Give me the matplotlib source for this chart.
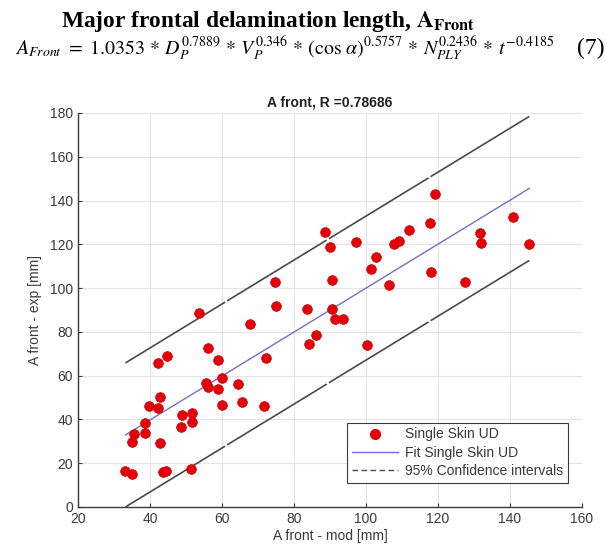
import matplotlib
matplotlib.use("Agg")
import matplotlib.pyplot as plt
from matplotlib.lines import Line2D
import numpy as np

plt.rcParams['mathtext.fontset'] = 'stix'

# ---- data ----
x_mod = [53.7, 75.0, 83.7, 90.6, 91.4, 93.6, 67.8, 86.1, 84.2, 56.0,
         44.7, 42.1, 59.0, 72.3, 60.1, 55.5, 56.2, 58.8, 64.6, 42.8,
         39.7, 42.2, 60.0, 65.7, 71.6, 48.9, 51.8, 51.8, 48.6, 38.7,
         38.7, 35.5, 34.9, 42.8, 33.2, 35.1, 43.5, 44.4, 51.5, 100.2,
         88.7, 90.1, 97.2, 90.5, 119.1, 112.1, 117.9, 107.9, 109.2, 102.9,
         101.5, 106.5, 118.2, 127.6, 131.6, 132.0, 141.0, 145.4, 74.7]
y_exp = [88.5, 91.8, 90.6, 90.3, 85.7, 85.7, 83.5, 78.7, 74.6, 72.6,
         69.1, 65.9, 67.2, 67.9, 58.9, 56.6, 54.8, 53.8, 56.1, 50.1,
         46.0, 45.1, 46.7, 47.8, 46.3, 41.9, 42.9, 38.8, 36.4, 38.4,
         33.9, 33.3, 29.8, 29.1, 16.6, 15.2, 16.0, 16.4, 17.4, 73.9,
         125.8, 118.8, 121.1, 103.7, 143.1, 126.7, 129.7, 120.1, 121.4, 114.2,
         108.7, 101.3, 107.5, 102.8, 125.0, 120.5, 132.3, 120.1, 102.9]
fit_slope = 1.0036
fit_intercept = -0.4
ci_half_width = 32.9
xticks = [20, 40, 60, 80, 100, 120, 140, 160]
yticks = [0, 20, 40, 60, 80, 100, 120, 140, 160, 180]

fig = plt.figure(figsize=(6.06, 5.55), dpi=100)
ax = fig.add_axes([0.1287, 0.0865, 0.8313, 0.7099])

xs = np.array(x_mod)
ys = np.array(y_exp)
xl = np.linspace(xs.min(), xs.max(), 200)
yfit = fit_intercept + fit_slope * xl

red = '#e4000a'
ax.plot(xs, ys, 'o', color=red, markersize=7, markeredgecolor='#cc0000',
        markeredgewidth=0.5, zorder=4)
ax.plot(xl, yfit, color='#7070c8', lw=1.0, zorder=3)
ax.plot(xl, yfit + ci_half_width, color='#4a4a4a', lw=1.2,
        linestyle=(0, (70, 1.5)), zorder=3)
ax.plot(xl, yfit - ci_half_width, color='#4a4a4a', lw=1.2,
        linestyle=(0, (70, 1.5)), zorder=3)

ax.set_xlim(20, 160)
ax.set_ylim(0, 180)
ax.set_xticks(xticks)
ax.set_yticks(yticks)
ax.grid(True, color='#e4e4e4', lw=0.8)
ax.set_axisbelow(True)
for s in ['top', 'right']:
    ax.spines[s].set_visible(False)
for s in ['left', 'bottom']:
    ax.spines[s].set_color('#3a3a3a')
    ax.spines[s].set_linewidth(1.0)
ax.tick_params(direction='in', length=3, color='#3a3a3a', labelcolor='#3a3a3a',
               labelsize=10)
for lab in ax.get_xticklabels() + ax.get_yticklabels():
    lab.set_family('Liberation Sans')

ax.set_xlabel('A front - mod [mm]', family='Liberation Sans', fontsize=10,
              color='#3a3a3a', labelpad=2)
ax.set_ylabel('A front - exp [mm]', family='Liberation Sans', fontsize=10,
              color='#3a3a3a', labelpad=6)
ax.set_title('A front, R =0.78686', family='Liberation Sans', fontsize=10,
             fontweight='bold', color='#222222', pad=5)

handles = [
    Line2D([], [], marker='o', color=red, linestyle='none', markersize=7),
    Line2D([], [], color='#7070c8', lw=1.0),
    Line2D([], [], color='#4a4a4a', lw=1.0, linestyle=(0, (4, 2.5))),
]
leg = ax.legend(handles, ['Single Skin UD', 'Fit Single Skin UD', '95% Confidence intervals'],
                loc='lower right', bbox_to_anchor=(0.972, 0.062),
                prop={'family': 'Liberation Sans', 'size': 10},
                fancybox=False, framealpha=1, edgecolor='#3a3a3a',
                handlelength=3.3, borderpad=0.35, labelspacing=0.3, handletextpad=0.5,
                borderaxespad=0.0)
leg.get_frame().set_linewidth(0.8)
for t in leg.get_texts():
    t.set_color('#3a3a3a')

fig.text(0.442, 0.962, r'Major frontal delamination length, $\mathbf{A_{Front}}$',
         family='Liberation Serif', fontweight='bold', fontsize=16.8, ha='center', va='center')
fig.text(0.024, 0.912,
         r'$A_{Front}\ =\ 1.0353\,*\,D_P^{0.7889}\,*\,V_P^{0.346}\,*\,(\cos\,\alpha)^{0.5757}\,*\,N_{PLY}^{0.2436}\,*\,t^{-0.4185}$',
         fontsize=14.3, ha='left', va='center')
fig.text(0.998, 0.912, '(7)', family='Liberation Serif', fontsize=17,
         ha='right', va='center')

fig.savefig('out.png', dpi=100)
